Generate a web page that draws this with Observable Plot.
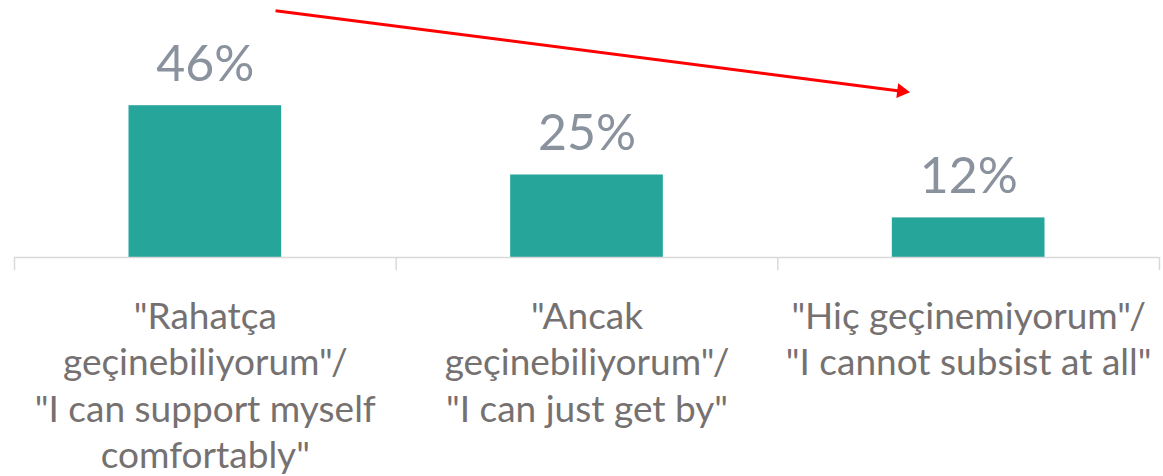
<!DOCTYPE html>
<html>
<head>
<meta charset="utf-8">
<script src="https://cdn.jsdelivr.net/npm/d3@7"></script>
<script src="https://cdn.jsdelivr.net/npm/@observablehq/plot@0.6"></script>
<style>
  html, body { margin: 0; padding: 0; background: #fff; }
  #chart svg { display: block; }
</style>
</head>
<body>
<div id="chart"></div>
<script>
// ---- data ----
const categories = [
  "\"Rahatça\ngeçinebiliyorum\"/\n\"I can support myself\ncomfortably\"",
  "\"Ancak\ngeçinebiliyorum\"/\n\"I can just get by\"",
  "\"Hiç geçinemiyorum\"/\n\"I cannot subsist at all\""
];
const values = [46, 25, 12];
const valueLabels = ["46%", "25%", "12%"];
// trend arrow annotation (data coordinates: category index, percent)
const arrowStart = [0.184, 74.8];
const arrowEnd = [1.824, 50.4];

const rows = categories.map((c, i) => ({i, cat: c, value: values[i], label: valueLabels[i]}));
const n = categories.length;
const boundaries = d3.range(n + 1).map(k => k - 0.5);

const W = 1163, H = 476;
const barHalf = 0.2;

const plot = Plot.plot({
  width: W,
  height: H,
  marginTop: 0,
  marginLeft: 14,
  marginRight: 4,
  marginBottom: 219,
  x: {domain: [-0.5, n - 0.5], axis: null},
  y: {domain: [0, 77.88], axis: null},
  style: {fontFamily: "Lato, sans-serif", background: "#fff"},
  marks: [
    Plot.rectY(rows, {x1: d => d.i - barHalf, x2: d => d.i + barHalf, y1: 0, y2: "value", fill: "#26A69A"}),
    Plot.ruleY([0], {stroke: "#d9d9d9", strokeWidth: 1.5}),
    Plot.ruleX(boundaries, {x: d => d, y1: 0, y2: -4, stroke: "#d9d9d9", strokeWidth: 1.5}),
    Plot.text(rows, {x: "i", y: "value", text: "label", lineAnchor: "bottom", dy: -25, fontSize: 50, fill: "#8a929e"}),
    Plot.text(rows, {x: "i", y: 0, text: "cat", lineAnchor: "top", dy: 38, fontSize: 37, lineHeight: 1.26, fill: "#767171"}),
    Plot.link([{x1: arrowStart[0], y1: arrowStart[1], x2: arrowEnd[0], y2: arrowEnd[1]}], {x1: "x1", y1: "y1", x2: "x2", y2: "y2", stroke: "#ff0000", strokeWidth: 3}),
    Plot.dot([{x: arrowEnd[0], y: arrowEnd[1]}], {x: "x", y: "y", symbol: "triangle2", r: 7.1, fill: "#ff0000", stroke: "none", rotate: 97.3})
  ]
});
document.getElementById("chart").appendChild(plot);
</script>
</body>
</html>
